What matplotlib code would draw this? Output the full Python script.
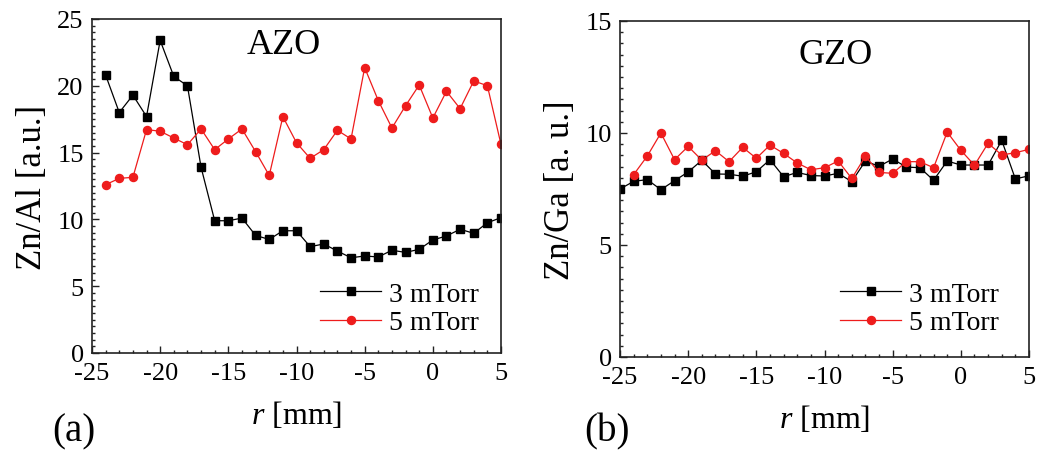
import matplotlib
matplotlib.use("Agg")
import matplotlib.pyplot as plt
from matplotlib.ticker import MultipleLocator

plt.rcParams['font.family'] = ['Liberation Serif', 'DejaVu Serif']
plt.rcParams['mathtext.fontset'] = 'custom'
plt.rcParams['mathtext.it'] = 'Liberation Serif:italic'
plt.rcParams['mathtext.rm'] = 'Liberation Serif'
plt.rcParams['axes.unicode_minus'] = False

# ---- Data ----
r_azo = list(range(-24, 6))
azo_3 = [20.8, 18.0, 19.3, 17.7, 23.4, 20.7, 20.0, 13.9, 9.9, 9.9, 10.1, 8.8, 8.5, 9.15,
         9.15, 7.96, 8.16, 7.63, 7.13, 7.26, 7.19, 7.69, 7.53, 7.76, 8.46, 8.76, 9.26,
         8.96, 9.75, 10.13]
azo_5 = [12.6, 13.07, 13.15, 16.72, 16.6, 16.09, 15.59, 16.77, 15.22, 16.02, 16.77, 15.07,
         13.29, 17.69, 15.74, 14.57, 15.22, 16.67, 16.02, 21.36, 18.89, 16.84, 18.51, 20.06,
         17.59, 19.59, 18.29, 20.36, 20.01, 15.61]

r_gzo_3 = list(range(-25, 6))
gzo_3 = [7.5, 7.84, 7.92, 7.47, 7.87, 8.26, 8.78, 8.17, 8.16, 8.07, 8.27, 8.81, 8.05, 8.24,
         8.1, 8.08, 8.2, 7.83, 8.75, 8.51, 8.84, 8.48, 8.45, 7.89, 8.75, 8.57, 8.57, 8.57,
         9.67, 7.95, 8.09]
r_gzo_5 = list(range(-24, 6))
gzo_5 = [8.14, 8.97, 10.0, 8.81, 9.4, 8.79, 9.21, 8.72, 9.36, 8.87, 9.46, 9.09, 8.66, 8.36,
         8.45, 8.75, 7.97, 8.96, 8.24, 8.2, 8.72, 8.72, 8.45, 10.04, 9.23, 8.56, 9.54, 9.02,
         9.12, 9.27]

labels = ['3 mTorr', '5 mTorr']
W, H = 1037, 452
fig = plt.figure(figsize=(W / 100, H / 100), dpi=100)

def make_ax(l, t, r, b):
    return fig.add_axes([l / W, 1 - b / H, (r - l) / W, (b - t) / H])

ax1 = make_ax(92, 20, 501, 354)
ax2 = make_ax(620, 22, 1029, 358)

TICK_FS = 19
for ax, ymax in ((ax1, 25), (ax2, 15)):
    ax.set_xlim(-25, 5)
    ax.set_ylim(0, ymax)
    ax.xaxis.set_major_locator(MultipleLocator(5))
    ax.xaxis.set_minor_locator(MultipleLocator(1))
    ax.yaxis.set_major_locator(MultipleLocator(5))
    ax.yaxis.set_minor_locator(MultipleLocator(0.5))
    ax.tick_params(which='both', direction='in', top=False, right=False,
                   labelsize=TICK_FS, width=1.0, color='#222222')
    ax.tick_params(which='major', length=5)
    ax.tick_params(which='minor', length=2.5)
    ax.tick_params(axis='x', pad=6.5)
    ax.tick_params(axis='y', pad=6)
    for s in ax.spines.values():
        s.set_linewidth(1.2)
        s.set_color('#222222')
    ax.set_xlabel(r'$\mathit{r}$ [mm]', fontsize=23, labelpad=11)

ax1.plot(r_azo, azo_3, '-s', color='black', lw=0.9, ms=5.2, label=labels[0])
ax1.plot(r_azo, azo_5, '-o', color='#ee1c1c', lw=0.9, ms=5.8, label=labels[1])
ax2.plot(r_gzo_3, gzo_3, '-s', color='black', lw=0.9, ms=5.2, label=labels[0])
ax2.plot(r_gzo_5, gzo_5, '-o', color='#ee1c1c', lw=0.9, ms=5.8, label=labels[1])

ax1.set_ylabel('Zn/Al [a.u.]', fontsize=25, labelpad=6)
ax2.set_ylabel('Zn/Ga [a. u.]', fontsize=25, labelpad=6)

ax1.text(0.47, 0.925, 'AZO', transform=ax1.transAxes, fontsize=26, ha='center', va='center')
ax2.text(0.526, 0.90, 'GZO', transform=ax2.transAxes, fontsize=26, ha='center', va='center')

leg_pos = {ax1: ((320 - 92) / 409, (354 - 309.5) / 334),
           ax2: ((840 - 620) / 409, (358 - 309.5) / 336)}
for ax in (ax1, ax2):
    ax.legend(loc='center left', bbox_to_anchor=leg_pos[ax], frameon=False, fontsize=20,
              handlelength=2.2, handletextpad=0.3, labelspacing=0.1,
              borderaxespad=0.0, borderpad=0.0)

fig.text(74 / W, 1 - 432 / H, '(a)', fontsize=28, ha='center', va='center')
fig.text(607 / W, 1 - 432 / H, '(b)', fontsize=28, ha='center', va='center')

fig.savefig('out.png', dpi=100, facecolor='white')
